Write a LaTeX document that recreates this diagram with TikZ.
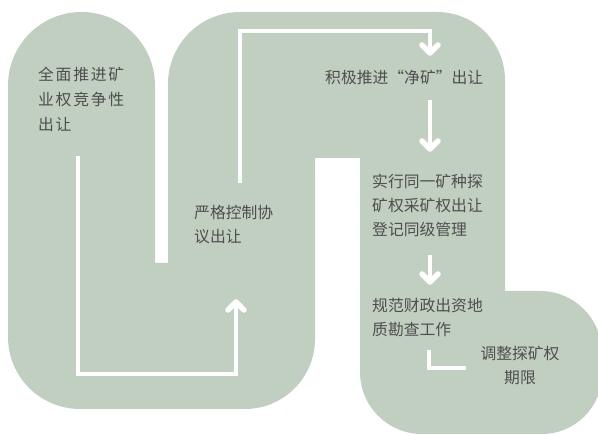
\documentclass[tikz,border=0pt]{standalone}
\usepackage{fontspec}
\setmainfont{Noto Sans CJK SC}
\newfontfamily\cjkwide[LetterSpace=11]{Noto Sans CJK SC}
\definecolor{sage}{RGB}{193,207,193}
\definecolor{txt}{RGB}{78,78,78}
\tikzset{
  lbl/.style={font=\fontsize{15.8}{24}\selectfont, text=txt, inner sep=0pt, align=left},
  lblwide/.style={font=\cjkwide\fontsize{15.8}{25}\selectfont, text=txt, inner sep=0pt, align=left},
  flow/.style={draw=white, line width=4pt},
  chev/.pic={\draw[white, line width=5.5pt, line cap=round, line join=round] (-8,-8) -- (0,0) -- (8,-8);}
}
\begin{document}
\begin{tikzpicture}[x=1pt,y=-1pt]
\useasboundingbox (0,0) rectangle (598,435);
\clip (0,0) rectangle (598,435);
% background serpentine shape
\fill[sage] (8,337) -- (8,85.5) arc[start angle=180,end angle=360,radius=73.5]
  -- (155,263) -- (168,263) -- (168,84) arc[start angle=180,end angle=270,radius=72]
  -- (437,12) arc[start angle=270,end angle=360,radius=68]
  -- (505,291) -- (540,291) arc[start angle=270,end angle=360,radius=62]
  -- (602,374) arc[start angle=0,end angle=90,radius=60]
  -- (422,434) arc[start angle=90,end angle=180,radius=62]
  -- (360,158) -- (315,158) -- (315,339) arc[start angle=0,end angle=90,radius=70]
  -- (80,409) arc[start angle=90,end angle=180,radius=72] -- cycle;

% texts (base anchor = baseline of last line)
\node[lblwide, anchor=base west] (t1) at (38,130.5) {全面推进矿\\业权竞争性\\出让};
\node[lbl, anchor=base west] (t2) at (194,242.5) {严格控制协\\议出让};
\node[lbl, anchor=base west] (t3) at (325,83.5) {积极推进“净矿”出让};
\node[lbl, anchor=base west] (t4) at (372,235.5) {实行同一矿种探\\矿权采矿权出让\\登记同级管理};
\node[lbl, anchor=base west] (t5) at (372,335.5) {规范财政出资地\\质勘查工作};
\node[lbl, anchor=base, align=center] (t6) at (520,383.5) {调整探矿权\\期限};

% connectors
\coordinate (a1s) at (78,156);
\coordinate (a1c) at (78,374);
\coordinate (a1d) at (236,374);
\coordinate (a1e) at (236,302);
\draw[flow] (a1s) -- (a1c) -- (a1d) -- (a1e);
\pic[rotate=180] at (a1e) {chev};

\coordinate (a2s) at (240,183);
\coordinate (a2c) at (240,31);
\coordinate (a2d) at (430,31);
\coordinate (a2e) at (430,53);
\draw[flow] (a2s) -- (a2c) -- (a2d) -- (a2e);
\pic at (a2e) {chev};

\coordinate (a3s) at (430,100);
\coordinate (a3e) at (430,149);
\draw[flow] (a3s) -- (a3e);
\pic at (a3e) {chev};

\coordinate (a4s) at (430,255);
\coordinate (a4e) at (430,282);
\draw[flow] (a4s) -- (a4e);
\pic at (a4e) {chev};

\coordinate (a5s) at (429,350);
\coordinate (a5c) at (429,368);
\coordinate (a5e) at (466,368);
\draw[flow] (a5s) -- (a5c) -- (a5e);
\end{tikzpicture}
\end{document}
